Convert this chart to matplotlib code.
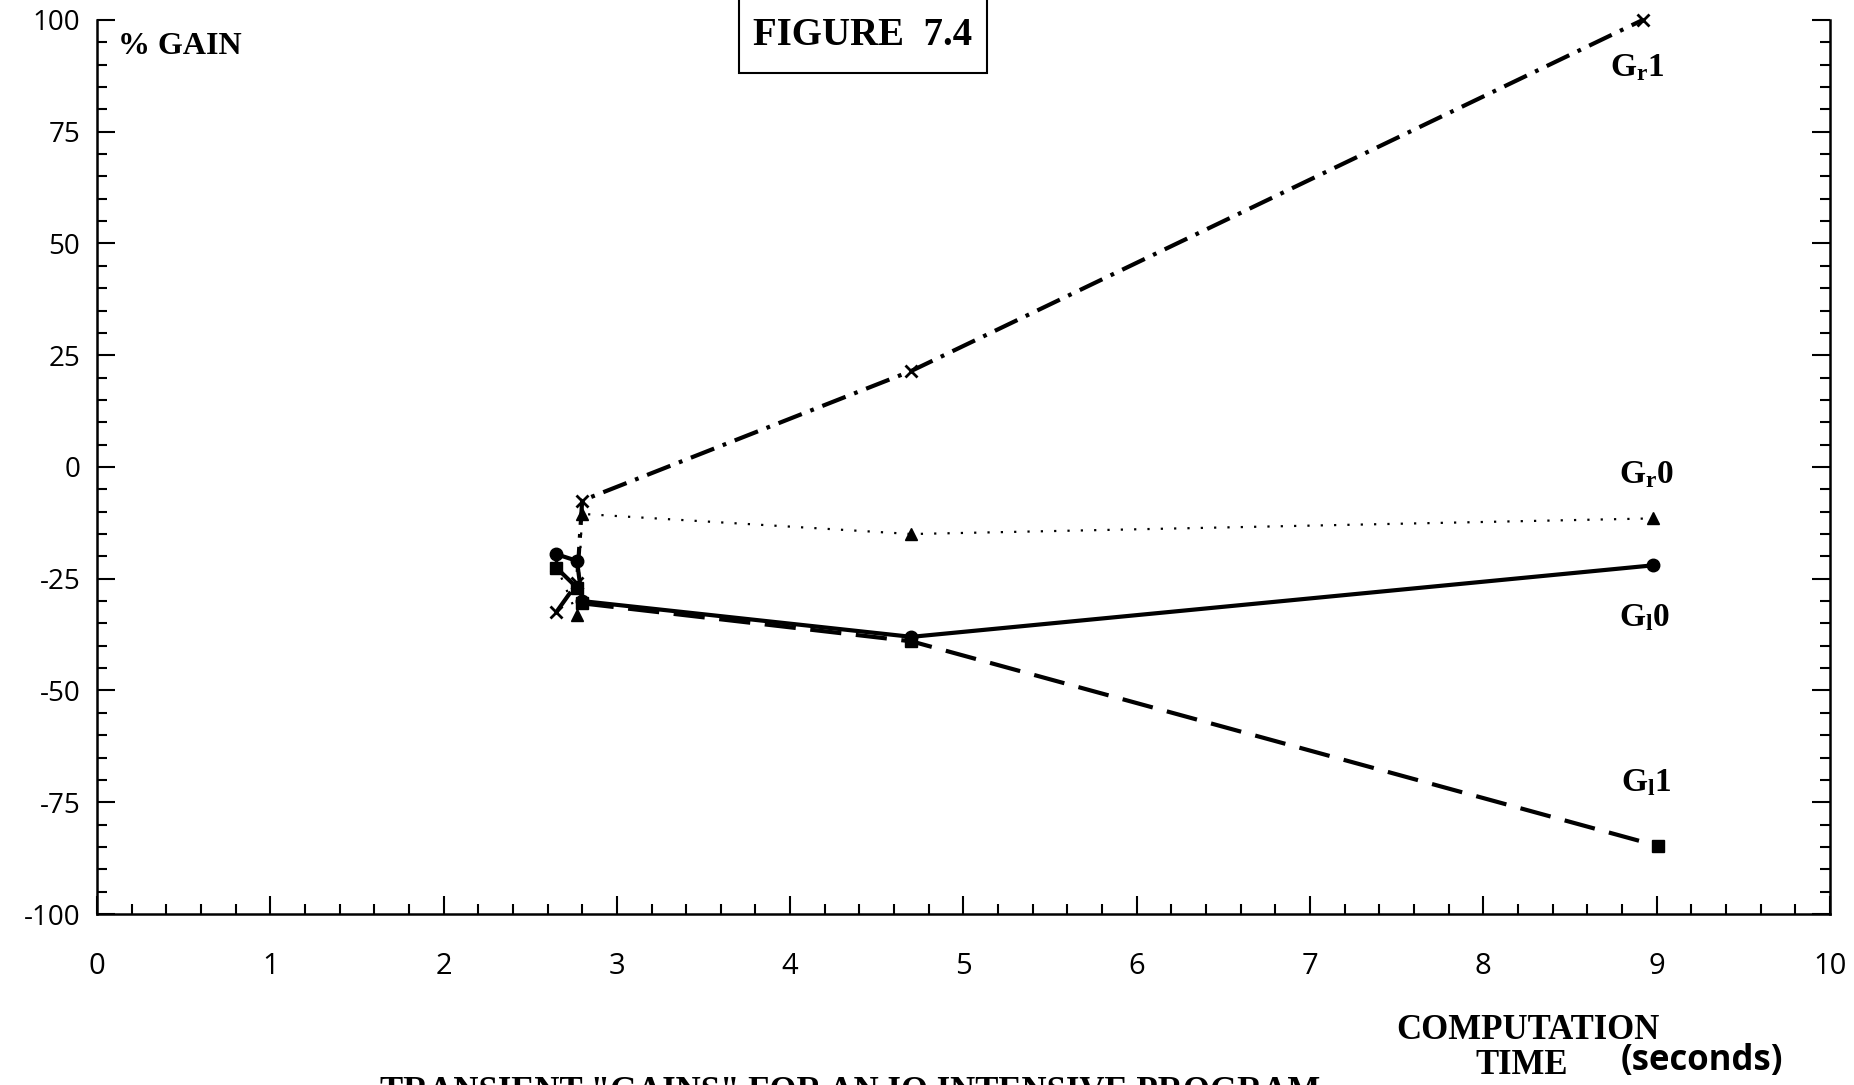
#!/usr/bin/env python3
'''
Figure 7.4 -- transient "gains" for an IO intensive program
'''
import matplotlib
matplotlib.use('Agg')
import matplotlib.pyplot as plt
from matplotlib.ticker import MultipleLocator
from matplotlib.patches import Rectangle


plt.rcParams['axes.unicode_minus'] = False
plt.rcParams['mathtext.fontset'] = 'custom'
plt.rcParams['mathtext.rm'] = 'Liberation Serif'
plt.rcParams['mathtext.bf'] = 'Liberation Serif:bold'

# Data (computation time in s, % gain)
gr1_t = [2.65, 2.77, 2.80, 4.70, 8.92]
gr1_gain = [-32.5, -26.0, -7.5, 21.5, 100.0]

gr0_t = [2.65, 2.77, 2.80, 4.70, 8.98]
gr0_gain = [-22.0, -33.0, -10.5, -15.0, -11.5]

gl0_t = [2.65, 2.77, 2.80, 4.70, 8.98]
gl0_gain = [-19.5, -21.0, -30.0, -38.0, -22.0]

gl1_t = [2.65, 2.77, 2.80, 4.70, 9.01]
gl1_gain = [-22.5, -27.0, -30.5, -39.0, -84.8]

series_labels = [r'$\mathbf{G_r1}$', r'$\mathbf{G_r0}$',
                 r'$\mathbf{G_l0}$', r'$\mathbf{G_l1}$']
label_pos = [(8.89, 89.5), (8.94, -1.5), (8.93, -33.5), (8.94, -70.5)]

x_ticks = list(range(0, 11))
y_ticks = [-100, -75, -50, -25, 0, 25, 50, 75, 100]

serif = 'Liberation Serif'
sans = 'Open Sans'

fig = plt.figure(figsize=[18.54, 10.85], dpi=100)
ax = fig.add_axes([0.0523, 0.1576, 0.9347, 0.824])

ax.plot(gr1_t, gr1_gain, color='k', lw=3.0, ls=(0, (6, 2.2, 0.9, 2.2)),
        marker='x', ms=9, mew=2, clip_on=False)
ax.plot(gr0_t, gr0_gain, color='k', lw=1.6, ls=(0, (1, 5)),
        marker='^', ms=9, clip_on=False)
ax.plot(gl0_t, gl0_gain, color='k', lw=3.0, ls='-',
        marker='o', ms=9, clip_on=False)
ax.plot(gl1_t, gl1_gain, color='k', lw=3.0, ls=(0, (7.5, 3.5)),
        marker='s', ms=9, clip_on=False)

for lab, (x, y) in zip(series_labels, label_pos):
    ax.text(x, y, lab, fontsize=24, ha='center', va='center')

ax.set_xlim(0, 10)
ax.set_ylim(-100, 100)
ax.set_xticks(x_ticks)
ax.set_yticks(y_ticks)
ax.xaxis.set_minor_locator(MultipleLocator(0.2))
ax.yaxis.set_minor_locator(MultipleLocator(5))

ax.spines['top'].set_visible(False)
for side in ['left', 'right', 'bottom']:
    ax.spines[side].set_linewidth(1.8)

ax.tick_params(which='both', direction='in', right=True, top=False,
               labelright=False, width=1.5)
ax.tick_params(which='major', length=13)
ax.tick_params(which='minor', length=7)
ax.tick_params(axis='x', which='major', pad=27, labelsize=21)
ax.tick_params(axis='y', which='major', pad=12, labelsize=20)
for lbl in ax.get_xticklabels() + ax.get_yticklabels():
    lbl.set_fontfamily(sans)

ax.text(0.012, 0.97, '% GAIN', transform=ax.transAxes, fontsize=23,
        fontweight='bold', family=serif, ha='left', va='center')

# figure number in an open-topped box
fig.add_artist(Rectangle((0.3986, 0.9327), 0.1338, 0.08, transform=fig.transFigure,
                         fc='white', ec='k', lw=1.5))
fig.text(0.4655, 0.967, 'FIGURE  7.4', fontsize=28, fontweight='bold',
         family=serif, ha='center', va='center')

fig.text(0.824, 0.0498, 'COMPUTATION', fontsize=25, fontweight='bold',
         family=serif, ha='center', va='center')
fig.text(0.821, 0.0180, 'TIME', fontsize=25, fontweight='bold',
         family=serif, ha='center', va='center')
fig.text(0.918, 0.022, '(seconds)', fontsize=25, fontweight='bold',
         family=sans, ha='center', va='center')
fig.text(0.4585, 0.0085, 'TRANSIENT "GAINS" FOR AN IO INTENSIVE PROGRAM',
         fontsize=25, fontweight='bold', family=serif, ha='center', va='top')

fig.savefig('out.png', dpi=100)
plt.close(fig)
